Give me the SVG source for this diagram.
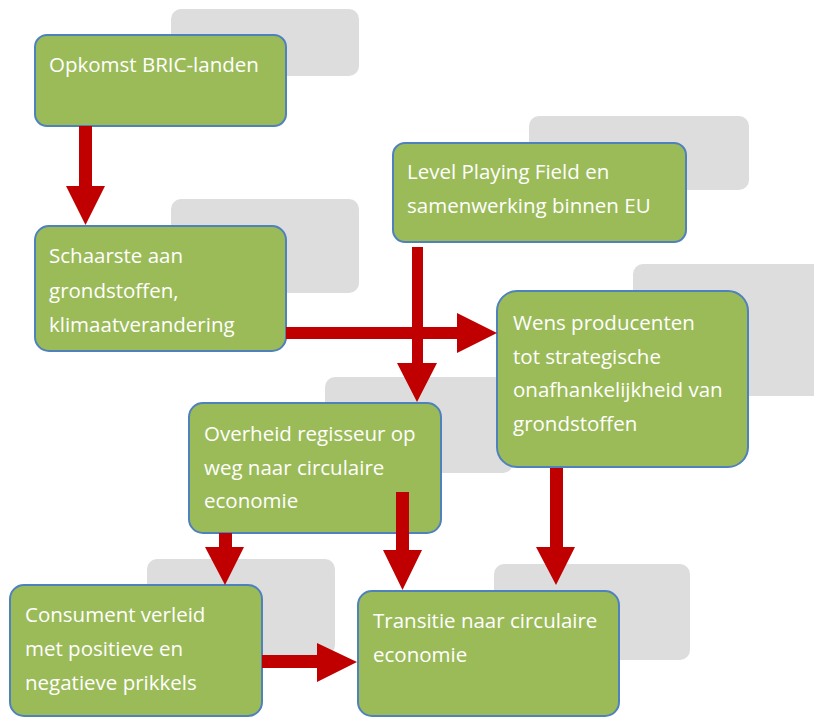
<svg xmlns="http://www.w3.org/2000/svg" width="814" height="717" viewBox="0 0 814 717">
<style>
.sh{fill:#DDDDDD}
.bx{fill:#9BBB59;stroke:#4F81BD;stroke-width:2}
.t{font-family:"Open Sans","Noto Sans","DejaVu Sans",sans-serif;font-size:20.5px;fill:#FFFFFF}
.ar{fill:#C00000}
</style>
<rect width="814" height="717" fill="#FFFFFF"/>
<g id="shadows">
<rect class="sh" x="171" y="9" width="188" height="67" rx="10"/>
<rect class="sh" x="171" y="199" width="188" height="94" rx="10"/>
<rect class="sh" x="529" y="116" width="220" height="74" rx="10"/>
<rect class="sh" x="633" y="264" width="190" height="132" rx="10"/>
<rect class="sh" x="325" y="377" width="188" height="96" rx="10"/>
<rect class="sh" x="147" y="559" width="188" height="96" rx="10"/>
<rect class="sh" x="494" y="564" width="196" height="96" rx="10"/>
</g>
<g id="n1">
<rect class="bx" x="35" y="35" width="251" height="91" rx="12"/>
<text class="t" x="49" y="72">Opkomst BRIC-landen</text>
</g>
<g id="n2">
<rect class="bx" x="35" y="226" width="251" height="125" rx="14"/>
<text class="t" x="49" y="263">Schaarste aan</text>
<text class="t" x="49" y="298">grondstoffen,</text>
<text class="t" x="49" y="332">klimaatverandering</text>
</g>
<g id="n3">
<rect class="bx" x="393" y="143" width="293" height="99" rx="12"/>
<text class="t" x="407" y="179">Level Playing Field en</text>
<text class="t" x="407" y="213">samenwerking binnen EU</text>
</g>
<g id="n4">
<rect class="bx" x="497" y="291" width="251" height="176" rx="20"/>
<text class="t" x="513" y="330">Wens producenten</text>
<text class="t" x="513" y="364">tot strategische</text>
<text class="t" x="513" y="397">onafhankelijkheid van</text>
<text class="t" x="513" y="431">grondstoffen</text>
</g>
<g id="n5">
<rect class="bx" x="189" y="403" width="252" height="130" rx="14"/>
<text class="t" x="204" y="441">Overheid regisseur op</text>
<text class="t" x="204" y="475">weg naar circulaire</text>
<text class="t" x="204" y="508">economie</text>
</g>
<g id="n6">
<rect class="bx" x="10" y="585" width="252" height="131" rx="14"/>
<text class="t" x="25" y="622">Consument verleid</text>
<text class="t" x="25" y="656">met positieve en</text>
<text class="t" x="25" y="690">negatieve prikkels</text>
</g>
<g id="n7">
<rect class="bx" x="358" y="591" width="261" height="125" rx="14"/>
<text class="t" x="373" y="628">Transitie naar circulaire</text>
<text class="t" x="373" y="662">economie</text>
</g>
<g id="connectors">
<polygon class="ar" points="79,126 92,126 92,186 105,186 85.5,225 66,186 79,186"/>
<polygon class="ar" points="412,247 423,247 423,363 437,363 417,402 397,363 412,363"/>
<polygon class="ar" points="286,327 457,327 457,313 497,333 457,353 457,339 286,339"/>
<polygon class="ar" points="550,468 563,468 563,547 575,547 556,585 536,547 550,547"/>
<polygon class="ar" points="219,533 232,533 232,547 244,547 225,585 205,547 219,547"/>
<polygon class="ar" points="396,492 409,492 409,550 422,550 402.5,590 383,550 396,550"/>
<polygon class="ar" points="262,655 317,655 317,643 357,662 317,682 317,668 262,668"/>
</g>
</svg>
